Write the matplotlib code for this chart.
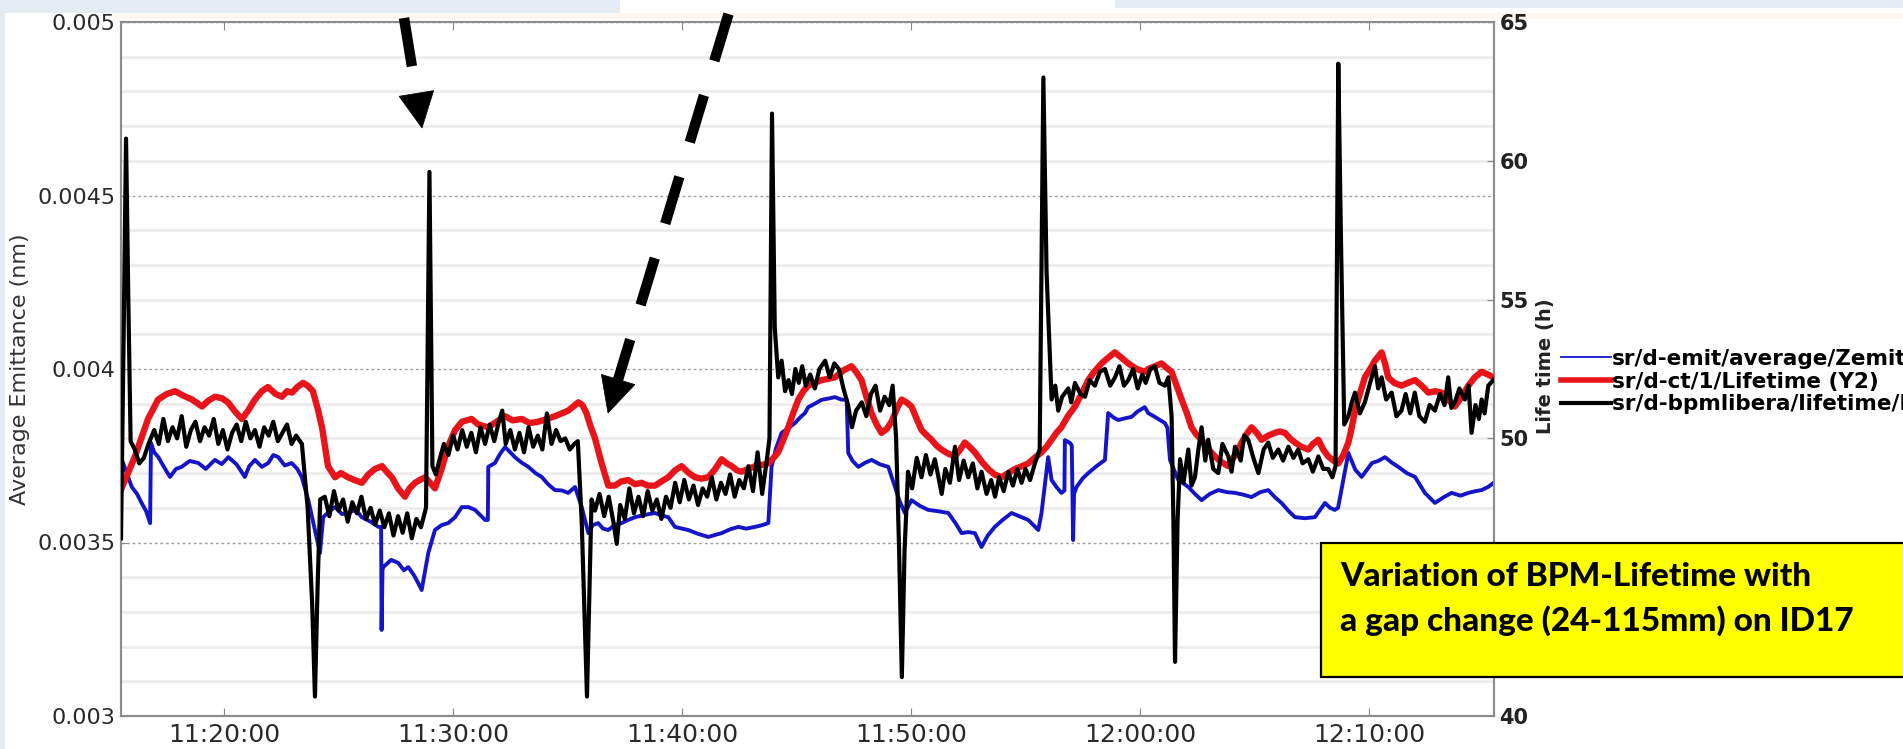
import numpy as np
import pandas as pd
import matplotlib
matplotlib.use("Agg")
import matplotlib.pyplot as plt
import matplotlib.dates as mdates
import matplotlib.ticker as mticker
from matplotlib.patches import Rectangle, Polygon
from matplotlib.lines import Line2D

# ---------------- data (minutes after 11:00, values) ----------------
black_t = [15.50, 15.62, 15.72, 15.82, 15.92, 16.10, 16.30, 16.50, 16.70, 16.95,
           17.15, 17.35, 17.55, 17.75, 17.95, 18.15, 18.35, 18.55, 18.75, 18.95,
           19.15, 19.35, 19.55, 19.75, 19.95, 20.15, 20.35, 20.55, 20.75, 20.95,
           21.15, 21.35, 21.55, 21.75, 21.95, 22.15, 22.35, 22.55, 22.75, 22.95,
           23.15, 23.40, 23.65, 23.85, 23.97, 24.08, 24.20, 24.40, 24.60, 24.80,
           25.00, 25.20, 25.40, 25.60, 25.80, 26.00, 26.20, 26.40, 26.60, 26.80,
           27.00, 27.20, 27.40, 27.60, 27.80, 28.00, 28.20, 28.40, 28.60, 28.82,
           28.97, 29.10, 29.25, 29.40, 29.60, 29.80, 30.00, 30.20, 30.40, 30.60,
           30.80, 31.00, 31.20, 31.40, 31.60, 31.80, 32.00, 32.15, 32.30, 32.50,
           32.70, 32.90, 33.10, 33.30, 33.50, 33.70, 33.90, 34.10, 34.30, 34.50,
           34.70, 34.90, 35.10, 35.30, 35.45, 35.62, 35.85, 36.05, 36.20, 36.40,
           36.60, 36.80, 37.00, 37.15, 37.30, 37.50, 37.70, 37.90, 38.10, 38.30,
           38.50, 38.70, 38.90, 39.10, 39.30, 39.50, 39.70, 39.90, 40.10, 40.30,
           40.50, 40.70, 40.90, 41.10, 41.30, 41.50, 41.70, 41.90, 42.10, 42.30,
           42.50, 42.70, 42.90, 43.10, 43.30, 43.50, 43.70, 43.82, 43.93, 44.05,
           44.20, 44.35, 44.50, 44.65, 44.80, 44.95, 45.10, 45.25, 45.40, 45.60,
           45.80, 46.00, 46.25, 46.45, 46.65, 46.85, 47.05, 47.25, 47.42, 47.60,
           47.85, 48.05, 48.25, 48.45, 48.65, 48.85, 49.05, 49.20, 49.35, 49.48,
           49.60, 49.72, 49.87, 50.05, 50.25, 50.46, 50.65, 50.85, 51.04, 51.20,
           51.34, 51.50, 51.70, 51.92, 52.10, 52.30, 52.50, 52.70, 52.90, 53.08,
           53.30, 53.50, 53.67, 53.85, 54.05, 54.25, 54.45, 54.65, 54.83, 55.00,
           55.20, 55.41, 55.62, 55.78, 55.92, 56.14, 56.30, 56.43, 56.60, 56.87,
           57.00, 57.16, 57.40, 57.60, 57.80, 58.03, 58.25, 58.47, 58.70, 58.91,
           59.10, 59.30, 59.49, 59.70, 59.90, 60.10, 60.25, 60.45, 60.65, 60.85,
           61.09, 61.24, 61.38, 61.46, 61.53, 61.64, 61.75, 61.90, 62.11, 62.25,
           62.40, 62.55, 62.69, 62.85, 62.98, 63.20, 63.42, 63.60, 63.86, 64.00,
           64.15, 64.40, 64.55, 64.73, 64.95, 65.17, 65.40, 65.60, 65.80, 66.04,
           66.25, 66.48, 66.70, 66.91, 67.10, 67.35, 67.55, 67.79, 68.00, 68.22,
           68.40, 68.54, 68.66, 68.78, 68.92, 69.10, 69.25, 69.39, 69.60, 69.82,
           70.05, 70.26, 70.40, 70.55, 70.75, 70.99, 71.20, 71.42, 71.60, 71.80,
           72.00, 72.20, 72.44, 72.65, 72.88, 73.10, 73.30, 73.46, 73.60, 73.75,
           73.95, 74.19, 74.35, 74.48, 74.65, 74.80, 74.92, 75.05, 75.21, 75.43]
black_h = [46.4, 54.0, 60.8, 55.0, 49.9, 49.6, 49.1, 49.3, 49.8, 50.3,
           49.8, 50.7, 49.9, 50.4, 50.0, 50.8, 49.7, 50.3, 50.6, 49.9,
           50.4, 50.1, 50.7, 49.8, 50.3, 49.6, 50.2, 50.5, 49.9, 50.6,
           50.0, 50.3, 49.7, 50.4, 50.1, 50.6, 49.9, 50.2, 50.5, 49.8,
           50.1, 49.8, 47.5, 44.0, 40.7, 44.5, 47.8, 47.9, 47.2, 48.1,
           47.4, 47.8, 47.0, 47.7, 47.3, 47.9, 47.1, 47.5, 46.9, 47.4,
           46.8, 47.3, 46.5, 47.2, 46.6, 47.3, 46.4, 47.1, 46.8, 47.5,
           59.6, 49.0, 48.7, 49.2, 49.8, 49.4, 50.1, 49.6, 50.3, 49.7,
           50.2, 49.5, 50.4, 49.8, 50.5, 49.9, 50.6, 51.0, 49.8, 50.3,
           49.6, 50.2, 49.5, 50.4, 49.7, 50.1, 49.6, 50.9, 49.8, 50.3,
           49.9, 50.0, 49.6, 49.8, 49.9, 47.0, 40.7, 47.8, 47.4, 48.0,
           47.2, 47.9, 47.0, 46.2, 47.6, 47.1, 48.2, 47.3, 47.9, 47.2,
           48.1, 47.4, 47.8, 47.1, 47.9, 47.5, 48.4, 47.7, 48.5, 47.8,
           48.3, 47.6, 48.2, 47.9, 48.6, 47.8, 48.4, 48.0, 48.7, 47.9,
           48.5, 48.2, 49.0, 48.1, 49.5, 48.0, 49.2, 50.0, 61.7, 54.0,
           52.2, 52.8, 51.7, 52.1, 51.6, 52.5, 52.0, 52.6, 51.9, 52.3,
           51.8, 52.5, 52.8, 52.2, 52.7, 52.5, 51.8, 51.2, 50.4, 51.0,
           51.3, 50.8, 51.6, 51.9, 51.0, 51.5, 51.2, 51.9, 50.0, 46.0,
           41.4, 46.0, 48.8, 48.2, 49.3, 48.6, 49.4, 48.7, 49.25, 48.6,
           48.0, 48.9, 48.4, 49.7, 48.5, 49.2, 48.6, 49.1, 48.2, 48.8,
           48.0, 48.5, 47.9, 48.6, 48.1, 48.8, 48.3, 48.9, 48.4, 48.9,
           48.5, 49.1, 49.6, 63.0, 56.0, 51.4, 51.9, 51.0, 51.5, 51.8,
           51.3, 52.0, 51.6, 51.5, 52.1, 51.9, 52.4, 52.5, 51.9, 52.2,
           52.6, 51.9, 52.1, 52.5, 51.8, 52.3, 52.0, 52.5, 52.6, 52.0,
           51.9, 52.2, 50.8, 47.0, 41.95, 47.0, 49.25, 48.4, 49.6, 48.3,
           48.6, 49.6, 50.4, 49.2, 49.95, 48.9, 48.75, 49.8, 49.35, 48.8,
           49.7, 49.2, 50.1, 49.95, 49.3, 48.75, 49.6, 49.85, 49.3, 49.6,
           49.2, 49.7, 49.3, 49.6, 49.1, 49.25, 48.8, 49.35, 48.9, 48.9,
           48.6, 49.0, 63.5, 57.0, 50.5, 50.8, 51.3, 51.65, 50.9, 51.3,
           52.0, 52.6, 51.8, 52.2, 51.4, 51.65, 50.8, 51.0, 51.6, 50.9,
           51.65, 50.8, 50.6, 51.2, 51.0, 51.6, 51.2, 52.2, 51.1, 51.3,
           51.8, 51.4, 51.9, 50.2, 51.2, 50.7, 51.4, 50.9, 51.9, 52.1]

red_t = [15.50, 16.11, 16.68, 17.12, 17.50, 17.86, 18.20, 18.60, 19.04, 19.30,
         19.60, 19.90, 20.17, 20.50, 20.78, 21.05, 21.35, 21.65, 21.92, 22.25,
         22.53, 22.75, 22.97, 23.20, 23.45, 23.65, 23.88, 24.08, 24.28, 24.54,
         24.85, 25.10, 25.41, 25.70, 26.02, 26.30, 26.59, 26.90, 27.10, 27.33,
         27.60, 27.90, 28.10, 28.34, 28.55, 28.78, 29.00, 29.21, 29.50, 29.78,
         30.09, 30.39, 30.81, 31.10, 31.54, 31.90, 32.27, 32.60, 33.00, 33.35,
         33.72, 34.10, 34.45, 35.03, 35.25, 35.47, 35.65, 35.83, 36.00, 36.20,
         36.49, 36.78, 37.07, 37.35, 37.65, 37.95, 38.24, 38.50, 38.82, 39.10,
         39.40, 39.70, 39.98, 40.30, 40.57, 40.85, 41.15, 41.45, 41.73, 41.95,
         42.17, 42.40, 42.60, 42.90, 43.19, 43.50, 43.77, 44.00, 44.20, 44.40,
         44.64, 44.85, 45.08, 45.30, 45.51, 45.80, 46.09, 46.40, 46.68, 47.05,
         47.40, 47.60, 47.84, 48.05, 48.28, 48.50, 48.71, 48.95, 49.15, 49.40,
         49.59, 49.80, 50.02, 50.25, 50.46, 50.70, 50.90, 51.10, 51.33, 51.62,
         51.92, 52.15, 52.35, 52.55, 52.79, 53.10, 53.37, 53.65, 53.95, 54.25,
         54.54, 54.85, 55.12, 55.40, 55.70, 55.92, 56.14, 56.35, 56.57, 56.85,
         57.16, 57.45, 57.74, 58.00, 58.32, 58.60, 58.90, 59.20, 59.49, 59.85,
         60.21, 60.36, 60.65, 60.94, 61.15, 61.38, 61.60, 61.82, 62.05, 62.25,
         62.45, 62.69, 63.00, 63.27, 63.55, 63.86, 64.15, 64.44, 64.65, 64.87,
         65.10, 65.31, 65.60, 65.89, 66.10, 66.33, 66.55, 66.77, 67.05, 67.35,
         67.55, 67.79, 68.00, 68.22, 68.45, 68.66, 68.88, 69.10, 69.25, 69.39,
         69.60, 69.82, 70.05, 70.26, 70.55, 70.70, 70.84, 71.10, 71.42, 71.70,
         72.01, 72.30, 72.59, 72.90, 73.17, 73.45, 73.75, 74.05, 74.34, 74.62,
         74.92, 75.20, 75.43]
red_h = [48.15, 49.35, 50.7, 51.4, 51.6, 51.7, 51.55, 51.4, 51.15, 51.35,
         51.5, 51.45, 51.3, 50.95, 50.7, 51.0, 51.4, 51.7, 51.85, 51.6,
         51.5, 51.7, 51.65, 51.85, 52.0, 51.9, 51.7, 51.1, 50.4, 49.0,
         48.6, 48.75, 48.6, 48.5, 48.4, 48.7, 48.9, 49.0, 48.8, 48.6,
         48.2, 47.9, 48.2, 48.4, 48.5, 48.6, 48.4, 48.2, 48.9, 49.7,
         50.3, 50.6, 50.7, 50.5, 50.4, 50.6, 50.8, 50.65, 50.7, 50.55,
         50.6, 50.7, 50.8, 51.0, 51.15, 51.3, 51.2, 50.9, 50.45, 50.0,
         49.1, 48.3, 48.3, 48.45, 48.5, 48.35, 48.4, 48.3, 48.3, 48.45,
         48.6, 48.85, 49.0, 48.75, 48.6, 48.55, 48.6, 48.9, 49.25, 49.1,
         49.0, 48.85, 48.8, 48.9, 49.0, 49.05, 49.1, 49.3, 49.5, 49.9,
         50.4, 50.9, 51.4, 51.7, 51.9, 52.0, 52.1, 52.15, 52.2, 52.45,
         52.6, 52.4, 52.1, 51.5, 50.9, 50.5, 50.2, 50.35, 50.6, 51.1,
         51.4, 51.3, 51.15, 50.7, 50.3, 50.1, 49.95, 49.75, 49.6, 49.45,
         49.35, 49.6, 49.85, 49.7, 49.5, 49.15, 48.9, 48.7, 48.6, 48.75,
         48.9, 49.0, 49.1, 49.3, 49.5, 49.7, 49.95, 50.2, 50.4, 50.8,
         51.15, 51.6, 52.1, 52.4, 52.7, 52.9, 53.1, 52.9, 52.7, 52.5,
         52.4, 52.5, 52.6, 52.7, 52.55, 52.4, 51.9, 51.4, 50.9, 50.4,
         50.15, 49.95, 49.6, 49.35, 49.15, 49.0, 49.4, 49.85, 50.15, 50.4,
         50.2, 49.95, 50.1, 50.2, 50.25, 50.2, 50.0, 49.85, 49.7, 49.6,
         49.8, 49.95, 49.6, 49.35, 49.2, 49.1, 49.4, 49.85, 50.4, 51.0,
         51.6, 52.2, 52.5, 52.8, 53.1, 52.7, 52.2, 52.0, 51.9, 52.0,
         52.1, 51.9, 51.65, 51.7, 51.65, 51.4, 51.15, 51.5, 51.9, 52.2,
         52.4, 52.3, 52.2]

blue_t = [15.50, 15.75, 15.97, 16.20, 16.40, 16.60, 16.77, 16.81, 16.95, 17.13,
          17.40, 17.64, 17.90, 18.15, 18.50, 18.88, 19.20, 19.60, 19.90, 20.19,
          20.55, 20.91, 21.10, 21.35, 21.65, 21.93, 22.15, 22.37, 22.65, 22.95,
          23.20, 23.39, 23.68, 23.97, 24.19, 24.33, 24.60, 24.85, 25.15, 25.43,
          25.75, 26.01, 26.40, 26.74, 26.86, 26.88, 26.92, 26.95, 27.30, 27.61,
          27.85, 28.05, 28.30, 28.48, 28.63, 28.92, 29.21, 29.50, 29.79, 30.09,
          30.38, 30.67, 30.96, 31.20, 31.40, 31.52, 31.54, 31.83, 32.05, 32.27,
          32.50, 32.70, 33.00, 33.29, 33.60, 33.87, 34.15, 34.45, 34.75, 35.03,
          35.33, 35.62, 35.91, 36.10, 36.34, 36.55, 36.78, 37.05, 37.36, 37.65,
          37.95, 38.40, 38.82, 39.10, 39.40, 39.69, 40.00, 40.27, 40.70, 41.15,
          41.45, 41.73, 42.10, 42.46, 42.80, 43.19, 43.50, 43.77, 43.91, 44.10,
          44.35, 44.65, 44.93, 45.15, 45.37, 45.51, 45.80, 46.09, 46.40, 46.68,
          46.95, 47.19, 47.26, 47.45, 47.70, 48.00, 48.28, 48.65, 49.01, 49.30,
          49.50, 49.73, 50.02, 50.40, 50.75, 51.20, 51.63, 51.95, 52.21, 52.50,
          52.79, 53.08, 53.35, 53.66, 54.00, 54.39, 54.75, 55.12, 55.35, 55.56,
          55.70, 55.99, 56.14, 56.35, 56.57, 56.70, 56.72, 56.94, 57.02, 57.08,
          57.12, 57.23, 57.50, 57.74, 58.10, 58.47, 58.61, 58.85, 59.05, 59.35,
          59.63, 59.90, 60.21, 60.36, 60.70, 61.09, 61.20, 61.31, 61.67, 61.90,
          62.11, 62.40, 62.69, 63.05, 63.42, 63.80, 64.15, 64.50, 64.87, 65.25,
          65.60, 65.90, 66.18, 66.50, 66.77, 67.20, 67.64, 68.08, 68.30, 68.51,
          68.65, 69.10, 69.40, 69.68, 70.13, 70.40, 70.70, 71.00, 71.28, 71.65,
          72.01, 72.44, 72.88, 73.25, 73.61, 74.00, 74.34, 74.65, 74.92, 75.20,
          75.43]
blue_v = [0.003746, 0.003700, 0.003660, 0.003640, 0.003614, 0.003590, 0.003556, 0.003787, 0.003760, 0.003746,
          0.003715, 0.003689, 0.003712, 0.003718, 0.003735, 0.003729, 0.003712, 0.003738, 0.003726, 0.003746,
          0.003725, 0.003689, 0.003720, 0.003738, 0.003718, 0.003729, 0.003752, 0.003746, 0.003722, 0.003729,
          0.003712, 0.003689, 0.003622, 0.003536, 0.003470, 0.003573, 0.003590, 0.003602, 0.003582, 0.003585,
          0.003595, 0.003573, 0.003560, 0.003545, 0.003545, 0.003248, 0.003420, 0.003429, 0.003450, 0.003441,
          0.003420, 0.003429, 0.003405, 0.003383, 0.003363, 0.003470, 0.003536, 0.003550, 0.003556, 0.003573,
          0.003602, 0.003602, 0.003594, 0.003578, 0.003565, 0.003565, 0.003718, 0.003729, 0.003755, 0.003775,
          0.003760, 0.003746, 0.003730, 0.003718, 0.003700, 0.003689, 0.003668, 0.003651, 0.003650, 0.003643,
          0.003660, 0.003602, 0.003527, 0.003550, 0.003556, 0.003540, 0.003536, 0.003550, 0.003556, 0.003565,
          0.003573, 0.003580, 0.003585, 0.003578, 0.003573, 0.003545, 0.003540, 0.003536, 0.003525, 0.003516,
          0.003522, 0.003527, 0.003538, 0.003545, 0.003540, 0.003545, 0.003550, 0.003556, 0.003718, 0.003770,
          0.003816, 0.003830, 0.003844, 0.003860, 0.003873, 0.003890, 0.003900, 0.003911, 0.003915, 0.003919,
          0.003912, 0.003911, 0.003758, 0.003735, 0.003718, 0.003730, 0.003738, 0.003725, 0.003718, 0.003660,
          0.003620, 0.003585, 0.003622, 0.003605, 0.003594, 0.003590, 0.003585, 0.003555, 0.003527, 0.003530,
          0.003527, 0.003487, 0.003520, 0.003545, 0.003565, 0.003585, 0.003575, 0.003565, 0.003550, 0.003536,
          0.003585, 0.003746, 0.003680, 0.003660, 0.003643, 0.003650, 0.003795, 0.003787, 0.003780, 0.003507,
          0.003640, 0.003660, 0.003685, 0.003700, 0.003720, 0.003738, 0.003873, 0.003860, 0.003853, 0.003858,
          0.003862, 0.003878, 0.003890, 0.003873, 0.003860, 0.003844, 0.003830, 0.003738, 0.003680, 0.003670,
          0.003660, 0.003640, 0.003622, 0.003640, 0.003651, 0.003645, 0.003643, 0.003638, 0.003631, 0.003645,
          0.003651, 0.003630, 0.003614, 0.003590, 0.003573, 0.003570, 0.003573, 0.003614, 0.003600, 0.003594,
          0.003600, 0.003758, 0.003710, 0.003689, 0.003729, 0.003735, 0.003746, 0.003730, 0.003718, 0.003700,
          0.003689, 0.003643, 0.003614, 0.003630, 0.003643, 0.003635, 0.003643, 0.003648, 0.003651, 0.003660,
          0.003671]

legend_labels = ["sr/d-emit/average/Zemittance",
                 "sr/d-ct/1/Lifetime (Y2)",
                 "sr/d-bpmlibera/lifetime/Lifetime (Y2)"]
left_ticks = [0.003, 0.0035, 0.004, 0.0045, 0.005]
right_ticks = [40, 45, 50, 55, 60, 65]
note_lines = ["Variation of BPM-Lifetime with", "a gap change (24-115mm) on ID17"]

# ---------------- figure ----------------
W, H = 1903, 749
base = pd.Timestamp("2012-01-01 11:00:00")
def to_time(ts):
    return base + pd.to_timedelta(np.asarray(ts), unit="min")

def fx(x):
    return x / W
def fy(y):
    return 1 - y / H

plt.rcParams["font.family"] = ["DejaVu Sans"]
fig = plt.figure(figsize=(W / 100, H / 100), dpi=100)
fig.patch.set_facecolor("white")

# screenshot-like bands around the chart
for (x0, y0, x1, y1, c) in [(0, 0, 620, 13, "#e4ebf3"), (1115, 0, 1903, 8, "#e4ebf3"),
                            (0, 0, 5, 749, "#e4ebf3"), (112, 13, 1903, 19, "#fdf6ee")]:
    fig.add_artist(Rectangle((fx(x0), fy(y1)), (x1 - x0) / W, (y1 - y0) / H,
                             transform=fig.transFigure, facecolor=c, edgecolor="none", zorder=0))

ax = fig.add_axes([fx(121), fy(716), (1494 - 121) / W, (716 - 22) / H])
ax2 = ax.twinx()

ax.plot(to_time(blue_t), blue_v, color="#1414c8", lw=2.8, zorder=3)
ax2.plot(to_time(red_t), red_h, color="#e8141a", lw=4.6, zorder=3)
ax2.plot(to_time(black_t), black_h, color="black", lw=3.0, zorder=4)

ax.set_xlim(to_time([15.5])[0], to_time([75.46])[0])
ax.set_ylim(0.003, 0.005)
ax2.set_ylim(40, 65)

ax.set_yticks(left_ticks)
ax.yaxis.set_major_formatter(mticker.FuncFormatter(lambda v, p: f"{v:g}"))
ax.yaxis.set_minor_locator(mticker.MultipleLocator(0.0001))
ax.grid(which="minor", axis="y", color="#ececec", lw=2.0)
ax.grid(which="major", axis="y", color="#a0a0a0", lw=1.0, ls=(0, (2, 2)))
ax.set_axisbelow(True)

ax.xaxis.set_major_locator(mdates.MinuteLocator(byminute=range(0, 60, 10)))
ax.xaxis.set_major_formatter(mdates.DateFormatter("%H:%M:%S"))

ax.tick_params(axis="x", direction="in", length=6, color="#888888", top=True,
               labelsize=18, labelcolor="#2a2a2a", pad=5)
ax.tick_params(axis="y", which="major", direction="in", length=4, color="#888888",
               labelsize=16, labelcolor="#2a2a2a", pad=4)
ax.tick_params(axis="y", which="minor", length=0)
ax2.set_yticks(right_ticks)
ax2.tick_params(axis="y", direction="in", length=5, color="#888888",
                labelsize=15, labelcolor="#222222", pad=4)
for lab in ax2.get_yticklabels():
    lab.set_fontweight("bold")

for a in (ax, ax2):
    for s in a.spines.values():
        s.set_color("#8c8c8c")
        s.set_linewidth(1.5)

ax.set_ylabel("Average Emittance (nm)", fontsize=16, color="#333333", va="center")
ax.yaxis.set_label_coords((20 - 121) / 1373, 0.5)
ax2.set_ylabel("Life time (h)", fontsize=14, fontweight="bold", color="#222222", va="center")
ax2.yaxis.set_label_coords((1546 - 121) / 1373, (716 - 366) / 694)

# legend
handles = [Line2D([], [], color="#1414c8", lw=1.3),
           Line2D([], [], color="#e8141a", lw=4.0),
           Line2D([], [], color="black", lw=3.0)]
fig.legend(handles, legend_labels, loc="upper left", bbox_to_anchor=(fx(1561), fy(349)),
           frameon=False, prop={"size": 15.5, "weight": "bold"}, handlelength=2.3,
           handletextpad=0.05, labelspacing=0.12, borderpad=0, borderaxespad=0)

# dashed arrows (annotation graphics)
def dashed_arrow(start, tip, head_len=35, head_w=35):
    sx, sy = start
    tx, ty = tip
    d = np.array([tx - sx, ty - sy], float)
    u = d / np.hypot(*d)
    n = np.array([u[1], -u[0]])
    mid = np.array([tx, ty]) - head_len * u
    fig.add_artist(Line2D([fx(sx), fx(mid[0])], [fy(sy), fy(mid[1])], transform=fig.transFigure,
                          color="black", lw=7.5, linestyle=(0, (4.7, 3.46)),
                          dash_capstyle="butt", zorder=20))
    c1 = mid + head_w / 2 * n
    c2 = mid - head_w / 2 * n
    fig.add_artist(Polygon([[fx(c1[0]), fy(c1[1])], [fx(c2[0]), fy(c2[1])], [fx(tx), fy(ty)]],
                           closed=True, transform=fig.transFigure, facecolor="black",
                           edgecolor="black", lw=0.5, zorder=20))

dashed_arrow((404, 18), (422, 128))
dashed_arrow((728.5, 14), (608, 413))

# yellow note box
fig.add_artist(Rectangle((fx(1321), fy(677)), (1915 - 1321) / W, (677 - 543) / H,
                         transform=fig.transFigure, facecolor="#ffff00", edgecolor="black",
                         lw=1.6, zorder=30))
fig.text(fx(1340), fy(577), note_lines[0], fontsize=24, fontweight="black", family="Lato",
         va="center", ha="left", zorder=31)
fig.text(fx(1340), fy(621), note_lines[1], fontsize=24, fontweight="black", family="Lato",
         va="center", ha="left", zorder=31)

fig.savefig("out.png", dpi=100)
